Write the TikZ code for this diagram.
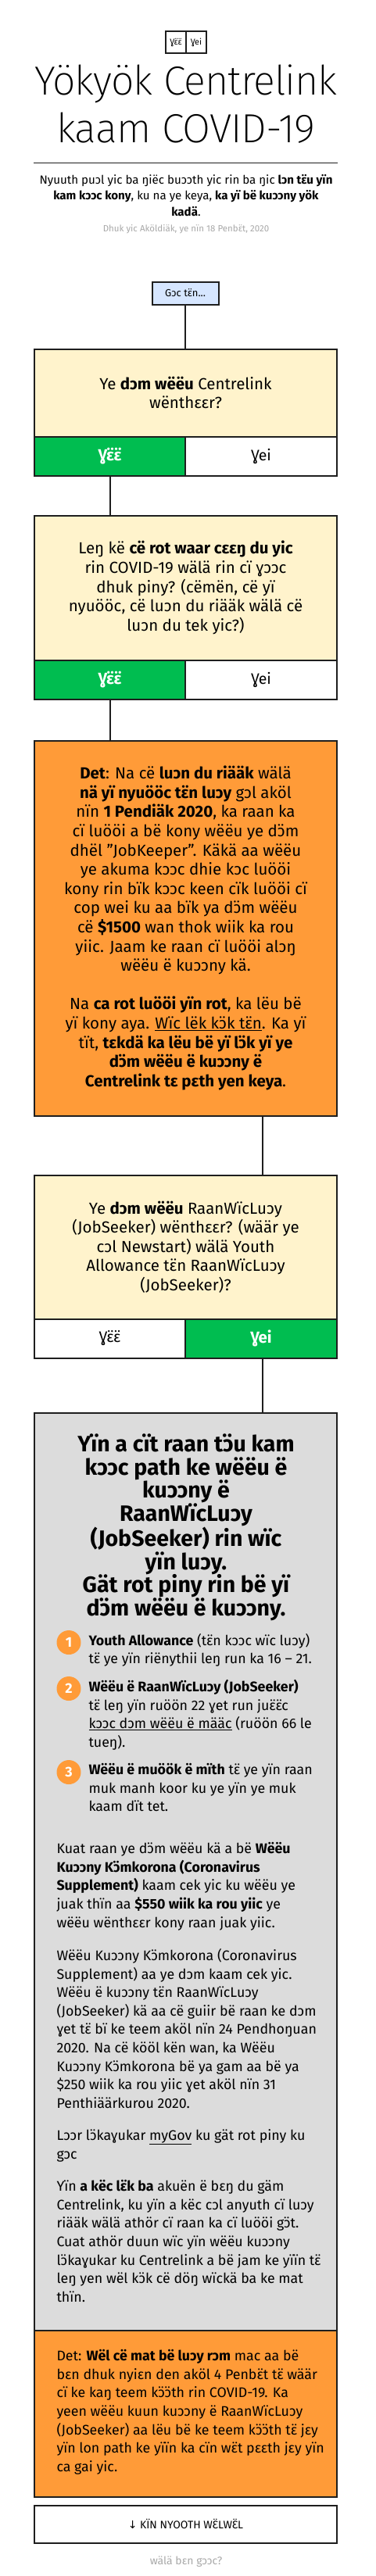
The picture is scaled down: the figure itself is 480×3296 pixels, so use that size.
\documentclass[tikz,border=0pt]{standalone}
\usepackage{fontspec}
\setmainfont{Fira Sans}
\newfontfamily\lightfont[LetterSpace=-2]{Fira Sans ExtraLight}
\newfontfamily\arrowfont{DejaVu Sans}
\definecolor{inkdark}{HTML}{1E1E1E}
\definecolor{creamfill}{HTML}{FFF3CC}
\definecolor{yesgreen}{HTML}{00BD50}
\definecolor{warnorange}{HTML}{FF9B38}
\definecolor{panelgrey}{HTML}{DCDCDC}
\definecolor{startblue}{HTML}{D6E6FF}
\definecolor{softgrey}{HTML}{A8A8A8}
\tikzset{
    box/.style={draw=inkdark, line width=2pt, inner sep=0pt, outer sep=0pt, anchor=north west, align=center},
    question/.style={box, fill=creamfill, minimum width=387pt, font=\fontsize{20.5}{24.6}\selectfont},
    answer/.style={box, minimum height=50pt, font=\fontsize{19.5}{22}\selectfont},
    picked/.style={answer, fill=yesgreen, text=white, font=\fontsize{20.5}{22}\selectfont\bfseries},
    bodytext/.style={inner sep=0pt, outer sep=0pt, anchor=north west, align=left, font=\fontsize{17.8}{23.6}\selectfont, execute at begin node=\strut},
    listnum/.style={circle, fill=warnorange, text=white, minimum size=31pt, inner sep=0pt, font=\fontsize{18}{20}\selectfont\bfseries},
    link/.style={draw=inkdark, line width=2pt},
}
\begin{document}
\begin{tikzpicture}[x=1pt, y=-1pt]
    \useasboundingbox (0,0) rectangle (480,3296);

    % language switch
    \node[box, minimum width=26pt, minimum height=28pt, font=\fontsize{10.8}{12}\selectfont] (langa) at (212,40) {Ɣɛ̈ɛ̈};
    \node[box, minimum width=26pt, minimum height=28pt, font=\fontsize{10.8}{12}\selectfont] (langb) at (238,40) {Ɣei};

    % heading
    \node[align=center, inner sep=0pt, font=\fontsize{52}{60.5}\selectfont\lightfont] (title) at (238,133) {Yökyök Centrelink\\kaam COVID-19};
    \coordinate (rulea) at (43,208);
    \coordinate (ruleb) at (432,208);
    \draw[inkdark, line width=1pt] (rulea) -- (ruleb);
    \node[align=center, inner sep=0pt, font=\fontsize{15.1}{20.6}\selectfont] (intro) at (238,250) {Nyuuth puɔl yic ba ŋiëc buɔɔth yic rin ba ŋic \textbf{lɔn tɛ̈u yïn}\\\textbf{kam kɔɔc kony}, ku na ye keya, \textbf{ka yï bë kuɔɔny yök}\\\textbf{kadä}.};
    \node[inner sep=0pt, text=softgrey, font=\fontsize{11.5}{14}\selectfont] (dated) at (238,293) {Dhuk yic Aköldiäk, ye nïn 18 Penbɛ̈t, 2020};

    % start
    \node[box, fill=startblue, minimum width=85pt, minimum height=29pt, font=\fontsize{13}{15}\selectfont] (start) at (194.5,360.5) {Gɔc tɛ̈n...};

    % first question
    \node[question, minimum height=112pt] (qcentre) at (44,446.5) {Ye \textbf{dɔm wëëu} Centrelink\\wënthɛɛr?};
    \node[picked, minimum width=193pt] (qcentreyes) at (44,558.5) {Ɣɛ̈ɛ̈};
    \node[answer, minimum width=194pt] (qcentreno) at (237,558.5) {Ɣei};
    \draw[link] (start.south) -- (qcentre.north -| start.south);

    % second question
    \node[question, minimum height=185pt] (qchange) at (44,659.5) {Leŋ kë \textbf{cë rot waar cɛɛŋ du yic}\\rin COVID-19 wälä rin cï ɣɔɔc\\dhuk piny? (cëmën, cë yï\\nyuööc, cë luɔn du riääk wälä cë\\luɔn du tek yic?)};
    \node[picked, minimum width=193pt] (qchangeyes) at (44,844.5) {Ɣɛ̈ɛ̈};
    \node[answer, minimum width=194pt] (qchangeno) at (237,844.5) {Ɣei};
    \draw[link] (qcentreyes.south) -- (qchange.north -| qcentreyes.south);

    % warning
    \node[box, fill=warnorange, minimum width=387pt, minimum height=480pt, font=\fontsize{20.5}{24.6}\selectfont] (warn) at (44,947.5) {\textbf{Det}: Na cë \textbf{luɔn du riääk} wälä\\\textbf{nä yï nyuööc tɛ̈n luɔy} gɔl aköl\\nïn \textbf{1 Pendiäk 2020}, ka raan ka\\cï luööi a bë kony wëëu ye dɔ̈m\\dhël "JobKeeper". Käkä aa wëëu\\ye akuma kɔɔc dhie kɔc luööi\\kony rin bïk kɔɔc keen cïk luööi cï\\cop wei ku aa bïk ya dɔ̈m wëëu\\cë \textbf{\$1500} wan thok wiik ka rou\\yiic. Jaam ke raan cï luööi alɔŋ\\wëëu ë kuɔɔny kä.\\[24.6pt]Na \textbf{ca rot luööi yïn rot}, ka lëu bë\\yï kony aya. \underline{Wïc lëk kɔ̈k tɛ̈n}. Ka yï\\tït, \textbf{tɛkdä ka lëu bë yï lɔ̈k yï ye}\\\textbf{dɔ̈m wëëu ë kuɔɔny ë}\\\textbf{Centrelink tɛ pɛth yen keya}.};
    \draw[link] (qchangeyes.south) -- (warn.north -| qchangeyes.south);

    % jobseeker question
    \node[question, minimum height=184pt] (qseeker) at (44,1503.5) {Ye \textbf{dɔm wëëu} RaanWïcLuɔy\\(JobSeeker) wënthɛɛr? (wäär ye\\cɔl Newstart) wälä Youth\\Allowance tɛ̈n RaanWïcLuɔy\\(JobSeeker)?};
    \node[answer, minimum width=193pt] (qseekeryes) at (44,1687.5) {Ɣɛ̈ɛ̈};
    \node[picked, minimum width=194pt] (qseekerno) at (237,1687.5) {Ɣei};
    \coordinate (warnout) at ([xshift=2pt]qseekerno.north |- warn.south);
    \draw[link] (warnout) -- (qseeker.north -| warnout);

    % result panel
    \node[box, fill=panelgrey, minimum width=387pt, minimum height=1174pt] (result) at (44,1807.5) {};
    \coordinate (seekerout) at ([xshift=2pt]qseekerno.south);
    \draw[link] (seekerout) -- (result.north -| seekerout);
    \node[align=center, inner sep=0pt, anchor=north, font=\fontsize{28.5}{29.7}\selectfont\bfseries, execute at begin node=\strut] (resulthead) at (238,1834.5) {Yïn a cït raan tɔ̈u kam\\kɔɔc path ke wëëu ë\\kuɔɔny ë\\RaanWïcLuɔy\\(JobSeeker) rin wïc\\yïn luɔy.\\Gät rot piny rin bë yï\\dɔ̈m wëëu ë kuɔɔny.};

    \node[listnum] (numa) at (88,2101.5) {1};
    \node[bodytext] (itema) at (113.5,2090.2) {\textbf{Youth Allowance} (tɛ̈n kɔɔc wïc luɔy)\\tɛ̈ ye yïn riënythii leŋ run ka 16 – 21.};
    \node[listnum] (numb) at (88,2160.5) {2};
    \node[bodytext] (itemb) at (113.5,2149.2) {\textbf{Wëëu ë RaanWïcLuɔy (JobSeeker)}\\tɛ̈ leŋ yïn ruöön 22 ɣet run juɛ̈ɛ̈c\\\underline{kɔɔc dɔm wëëu ë määc} (ruöön 66 le\\tueŋ).};
    \node[listnum] (numc) at (88,2267.5) {3};
    \node[bodytext] (itemc) at (113.5,2256.5) {\textbf{Wëëu ë muöök ë mïth} tɛ̈ ye yïn raan\\muk manh koor ku ye yïn ye muk\\kaam dït tet.};

    \node[bodytext] (paraa) at (72.5,2357.5) {Kuat raan ye dɔ̈m wëëu kä a bë \textbf{Wëëu}\\\textbf{Kuɔɔny Kɔ̈mkorona (Coronavirus}\\\textbf{Supplement)} kaam cek yic ku wëëu ye\\juak thïn aa \textbf{\$550 wiik ka rou yiic} ye\\wëëu wënthɛɛr kony raan juak yiic.};
    \node[bodytext] (parab) at (72.5,2493.5) {Wëëu Kuɔɔny Kɔ̈mkorona (Coronavirus\\Supplement) aa ye dɔm kaam cek yic.\\Wëëu ë kuɔɔny tɛ̈n RaanWïcLuɔy\\(JobSeeker) kä aa cë guiir bë raan ke dɔm\\ɣet tɛ̈ bï ke teem aköl nïn 24 Pendhoŋuan\\2020. Na cë kööl kën wan, ka Wëëu\\Kuɔɔny Kɔ̈mkorona bë ya gam aa bë ya\\\$250 wiik ka rou yiic ɣet aköl nïn 31\\Penthiäärkurou 2020.};
    \node[bodytext] (parac) at (72.5,2724.5) {Lɔɔr lɔ̈kaɣukar \underline{myGov} ku gät rot piny ku\\gɔc};
    \node[bodytext] (parad) at (72.5,2789.5) {Yïn \textbf{a këc lɛ̈k ba} akuën ë bɛŋ du gäm\\Centrelink, ku yïn a këc cɔl anyuth cï luɔy\\riääk wälä athör cï raan ka cï luööi gɔ̈t.\\Cuat athör duun wïc yïn wëëu kuɔɔny\\lɔ̈kaɣukar ku Centrelink a bë jam ke yïïn tɛ̈\\leŋ yen wël kɔ̈k cë döŋ wïckä ba ke mat\\thïn.};

    % closing note
    \node[box, fill=warnorange, minimum width=387pt, minimum height=213pt] (closing) at (44,2981.5) {};
    \node[bodytext] (closingtext) at (72.5,3006.5) {Det: \textbf{Wël cë mat bë luɔy rɔm} mac aa bë\\bɛn dhuk nyiɛn den aköl 4 Penbɛ̈t tɛ̈ wäär\\cï ke kaŋ teem kɔ̈ɔ̈th rin COVID-19. Ka\\yeen wëëu kuun kuɔɔny ë RaanWïcLuɔy\\(JobSeeker) aa lëu bë ke teem kɔ̈ɔ̈th tɛ̈ jɛy\\yïn lon path ke yïïn ka cïn wɛ̈t pɛɛth jɛy yïn\\ca gai yic.};

    % bottom button
    \node[box, minimum width=387pt, minimum height=48pt, font=\fontsize{13.9}{16}\selectfont] (showall) at (44,3205.5) {{\arrowfont ↓} KÏN NYOOTH WƐ̈LWƐ̈L};
    \node[inner sep=0pt, text=softgrey, font=\fontsize{14}{16}\selectfont] (again) at (238,3278) {wälä bɛn gɔɔc?};
\end{tikzpicture}
\end{document}
